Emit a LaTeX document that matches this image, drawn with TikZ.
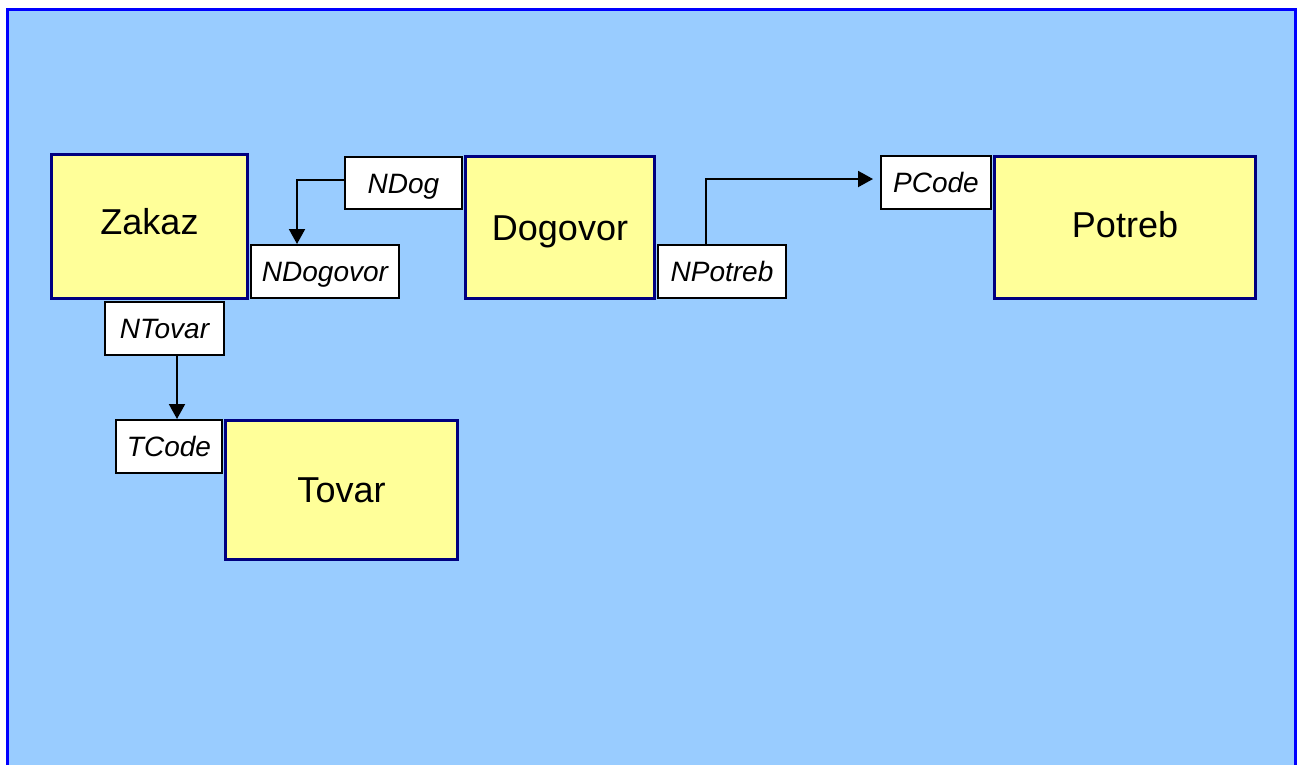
\documentclass[tikz,border=0pt]{standalone}
\usepackage{fontspec}
\setmainfont{Liberation Sans}
\usetikzlibrary{arrows.meta}
\definecolor{bgblue}{HTML}{99CCFF}
\definecolor{frameblue}{HTML}{0000FF}
\definecolor{navy}{HTML}{000080}
\definecolor{boxyellow}{HTML}{FFFF99}
\tikzset{
  entity/.style={draw=navy, line width=3.2pt, fill=boxyellow, inner sep=0pt,
    text height=25.8pt, text depth=0pt, font=\fontsize{36}{40}\selectfont},
  keybox/.style={draw=black, line width=2pt, fill=white, inner sep=0pt,
    text height=20.5pt, text depth=0pt, font=\fontsize{28}{32}\selectfont\itshape},
  link/.style={draw=black, line width=2pt, -{Triangle[length=15pt,width=16pt]}}
}
\begin{document}
\begin{tikzpicture}[x=1pt,y=-1pt]
\useasboundingbox (0,0) rectangle (1298,764);
\fill[white] (0,0) rectangle (1298,764);
\draw[frameblue, line width=3pt, fill=bgblue] (7,790) -- (7,9) -- (1295,9) -- (1295,790);

% key boxes
\node[keybox, minimum width=117pt, minimum height=52pt] (ndog) at (403.5,183) {NDog};
\node[keybox, minimum width=148pt, minimum height=53pt] (ndogovor) at (325,271.5) {NDogovor};
\node[keybox, minimum width=128pt, minimum height=53pt] (npotreb) at (722,271.5) {NPotreb};
\node[keybox, minimum width=110pt, minimum height=53pt] (pcode) at (936,182.5) {PCode};
\node[keybox, minimum width=119pt, minimum height=53pt] (ntovar) at (164.5,328.5) {NTovar};
\node[keybox, minimum width=106pt, minimum height=53pt] (tcode) at (169,446.5) {TCode};

% entities
\node[entity, minimum width=196pt, minimum height=144pt, text depth=10pt] (zakaz) at (149.5,226.5) {Zakaz};
\node[entity, minimum width=189pt, minimum height=142pt] (dogovor) at (560,227.5) {Dogovor};
\node[entity, minimum width=261pt, minimum height=142pt, text depth=6pt] (potreb) at (1125,227.5) {Potreb};
\node[entity, minimum width=232pt, minimum height=139pt] (tovar) at (341.5,490) {Tovar};

% connectors
\coordinate (c1) at (297,180);
\coordinate (c2) at (706,179);
\coordinate (c3) at (177,0);
\draw[link] ([yshift=3pt]ndog.west) -| (c1 |- ndogovor.north);
\draw[link, shorten >=7pt] (c2 |- npotreb.north) |- ([yshift=3.5pt]pcode.west);
\draw[link] (c3 |- ntovar.south) -- (c3 |- tcode.north);
\end{tikzpicture}
\end{document}
